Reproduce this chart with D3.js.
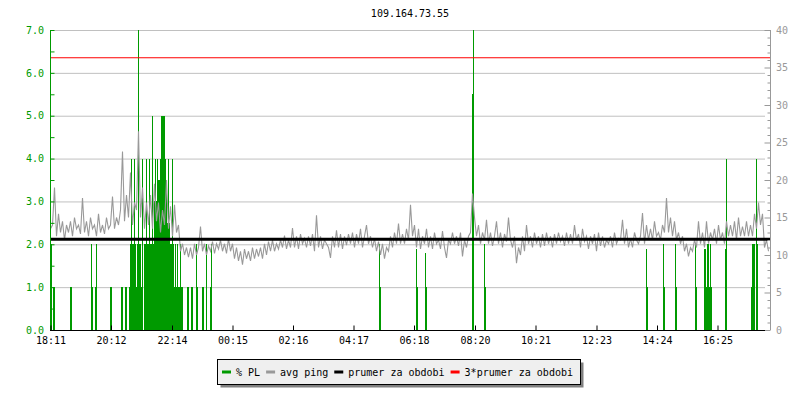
<!DOCTYPE html>
<meta charset="utf-8">
<style>
body { margin: 0; background: #fff; }
svg { display: block; }
text { font-family: "DejaVu Sans Mono", monospace; font-size: 10px; }
</style>
<svg width="800" height="400"></svg>
<script src="https://cdn.jsdelivr.net/npm/d3@7"></script>
<script>

var title = "109.164.73.55";

// x axis labels (start of period is 18:10, 24 hours shown)
var tickLabels = ["18:11", "20:12", "22:14", "00:15", "02:16", "04:17",
                  "06:18", "08:20", "10:21", "12:23", "14:24", "16:25"];

// avg ping [ms], one value every 4 minutes from 18:10
var pingStep = 4;
var pingValues = [
  13.5, 14, 19, 12.5, 15.5, 13, 14.5, 12, 14, 13,
  14.5, 12.5, 15, 13.5, 14, 12.8, 17.6, 13, 14.5, 12.5,
  15, 13.5, 14, 12.5, 15.5, 13, 14, 12.8, 15, 13.5,
  14, 17.8, 13.5, 15, 14, 16, 23.8, 14.5, 18, 15,
  21, 14, 17, 16, 26.5, 15, 19, 13.5, 17, 14,
  18, 13.5, 19.5, 14.5, 17, 13, 16, 14, 20, 13.5,
  16.5, 12.5, 16.7, 13, 14, 10.5, 11.5, 10, 11, 9.7,
  11, 9.5, 11.5, 10, 11, 13.8, 10.5, 11.5, 10, 11.2,
  10.5, 11.8, 10.2, 11.5, 10.8, 12, 10.5, 11.5, 10.2, 12.2,
  10.5, 11.5, 9.5, 11, 9.2, 10.5, 8.7, 10.8, 9.5, 10.5,
  9.2, 11, 9.5, 10.8, 9.8, 11, 9.5, 11.5, 10, 11.8,
  10.5, 12, 10.5, 11.5, 10.8, 12, 11, 12.6, 10.8, 12,
  11, 13.6, 11, 12.5, 10.8, 12.8, 11.5, 12.2, 11, 12.5,
  11.2, 12.8, 10.5, 15.3, 11, 12.5, 10.8, 12, 11.5, 11,
  9.6, 12.5, 11, 13.3, 11, 12.8, 10.8, 12.5, 11.3, 12.8,
  11.5, 13, 11, 12.8, 11.5, 13.5, 11, 12.5, 14, 11.5,
  12.5, 11, 12.2, 10.5, 11.8, 10, 11.5, 9.5, 11, 10.5,
  12.5, 11, 13, 11.5, 14.2, 11.5, 12.8, 11.5, 13.5, 12,
  16.7, 12.5, 14, 11, 13.5, 10.8, 12.5, 11.5, 13.5, 11,
  12.5, 10.8, 13, 11.5, 12, 10.8, 13.2, 11, 9.6, 12,
  11.5, 13, 11.5, 12.5, 11.2, 13, 9.8, 12, 11, 12.5,
  13, 18.2, 15, 12.5, 14, 11.5, 13, 12, 14.7, 11.5,
  13, 11.2, 12.5, 14.5, 11.5, 13, 11, 12.8, 11.8, 15,
  12, 11, 12.5, 8.9, 11, 10, 12.5, 10.5, 14, 11.5,
  12.5, 11, 13, 11.5, 12.5, 11, 12.8, 11.2, 13, 11.5,
  12.5, 11, 12.8, 11.5, 13, 11.8, 12.5, 11.2, 13, 11.5,
  12.8, 11.5, 14, 12, 12.8, 11, 13.5, 11.8, 12.5, 10.8,
  12.5, 11.5, 12.8, 10.5, 13, 11.2, 12.5, 11, 12, 11.5,
  12.5, 11, 13, 11.5, 12.2, 12, 14.7, 11.5, 13.5, 11,
  12.2, 11, 13, 12, 11.5, 12.5, 15.6, 11.5, 14, 12,
  13.5, 12, 14.5, 12.5, 13, 12, 14, 13, 17.6, 13,
  15, 12.5, 14.5, 12, 13, 11.5, 12.5, 10.5, 11.5, 9.8,
  11, 10.5, 12, 11, 14.5, 11.5, 13, 11, 14.5, 11.5,
  13, 12, 13.5, 11.5, 14, 12, 13, 11.5, 14.5, 12.5,
  14, 12.5, 14.5, 12, 15, 12.5, 13.8, 12.5, 14.5, 12.5,
  14, 12.5, 15.5, 13.5, 17, 14, 15.5, 11, 12, 10.5
];

// packet loss [%], minutes after 18:10 (2 minute samples)
var plMinutes = [
  2, 6, 8, 40, 42, 82, 84, 90, 92, 120, 122, 142, 144, 150, 152,
  158, 160, 162, 164, 166, 168, 170, 172, 174, 176, 178, 180, 182, 184,
  188, 190, 192, 194, 196, 198, 200, 202, 204, 206, 208, 210, 212, 214,
  216, 218, 220, 222, 224, 226, 228, 230, 232, 234, 236, 238, 240, 242,
  244, 246, 248, 250, 252, 254, 256, 258, 260, 262, 264,
  274, 276, 282, 284, 292, 294, 304, 306, 312, 320, 322,
  658, 660, 732, 734, 750, 752, 844, 846, 868, 870,
  1192, 1194, 1226, 1228, 1250, 1252, 1290, 1292,
  1308, 1310, 1312, 1314, 1316, 1318, 1320, 1322, 1350, 1352,
  1402, 1404, 1406, 1408, 1412, 1414
];
var plValues = [
  2, 1, 1, 1, 1, 2, 1, 1, 2, 1, 1, 1, 1, 1, 1,
  1, 2, 4, 2, 2, 4, 2, 1, 2, 7, 2, 2, 1, 4,
  2, 2, 4, 2, 2, 4, 2, 2, 5, 2, 3, 4, 3, 4,
  3.5, 3.5, 4, 5, 5, 5, 5, 4, 3.5, 2.5, 4, 2.5, 2, 2,
  4, 2, 1, 2, 1, 2, 1, 1, 2, 1, 1,
  1, 1, 1, 1, 2, 1, 1, 1, 2, 1, 2,
  2, 1, 1.9, 1, 1.8, 1, 5.5, 7, 2, 1,
  1.9, 1, 2, 1, 2, 1, 2, 1,
  1.9, 1.9, 1, 2, 2, 1, 2, 1, 1.9, 4,
  1, 2, 2, 2, 4, 2
];

// average over the period, and 3x average
var avgPing = 12.1;
var avgPing3 = 36.3;

var legendNames = ["% PL", "avg ping", "prumer za obdobi", "3*prumer za obdobi"];
var legendColors = ["#009a00", "#999999", "#000000", "#ff0000"];

var svg = d3.select("svg");

var t0 = new Date(2020, 0, 1, 18, 10);
function minutes(m) { return new Date(t0.getTime() + m * 60000); }

var x = d3.scaleTime()
    .domain([t0, minutes(24 * 60)])
    .range([50, 770]);
var yPL = d3.scaleLinear().domain([0, 7]).range([330, 30]);
var yPing = d3.scaleLinear().domain([0, 40]).range([330, 30]);

var tickDates = tickLabels.map(function(s) {
  var p = s.split(":"), h = +p[0], m = +p[1];
  return new Date(2020, 0, h < 18 ? 2 : 1, h, m);
});

svg.append("text")
    .attr("x", 410)
    .attr("y", 17)
    .attr("text-anchor", "middle")
    .attr("fill", "#000")
    .text(title);

// grid
svg.append("g")
  .selectAll("line")
  .data(d3.range(1, 8))
  .enter().append("line")
    .attr("x1", 51).attr("x2", 765)
    .attr("y1", function(d) { return yPL(d) + 0.5; })
    .attr("y2", function(d) { return yPL(d) + 0.5; })
    .attr("stroke", "#c0c0c0");

// packet loss bars
svg.append("g")
  .selectAll("rect")
  .data(plMinutes)
  .enter().append("rect")
    .attr("x", function(d) { return x(minutes(d)); })
    .attr("width", function(d) { return x(minutes(d + 2)) - x(minutes(d)); })
    .attr("y", function(d, i) { return yPL(plValues[i]); })
    .attr("height", function(d, i) { return yPL(0) - yPL(plValues[i]); })
    .attr("fill", "#009a00")
    .attr("shape-rendering", "crispEdges");

// avg ping line
var line = d3.line()
    .x(function(d, i) { return x(minutes(i * pingStep)); })
    .y(function(d) { return yPing(d); });

svg.append("path")
    .datum(pingValues)
    .attr("d", line)
    .attr("fill", "none")
    .attr("stroke", "#999999")
    .attr("stroke-width", 1.1)
    .attr("transform", "translate(0.5,0)");

// average lines
svg.append("line")
    .attr("x1", 50).attr("x2", 770)
    .attr("y1", yPing(avgPing)).attr("y2", yPing(avgPing))
    .attr("stroke", "#000").attr("stroke-width", 3);
svg.append("line")
    .attr("x1", 50).attr("x2", 770)
    .attr("y1", yPing(avgPing3)).attr("y2", yPing(avgPing3))
    .attr("stroke", "#ff0000").attr("stroke-width", 1.2);

// left axis
var left = svg.append("g").attr("transform", "translate(50.5,0)");
left.call(d3.axisRight(yPL).tickValues(d3.range(0, 7.01, 0.5)).tickSize(4).tickFormat(""));
left.select(".domain").remove();
left.append("line").attr("y1", 30).attr("y2", 330).attr("stroke", "#009a00");
left.selectAll(".tick line").attr("stroke", "#009a00");

var leftLab = svg.append("g").attr("transform", "translate(50,0)")
    .call(d3.axisLeft(yPL).tickValues(d3.range(0, 8)).tickSize(0).tickPadding(6)
      .tickFormat(d3.format(".1f")));
leftLab.select(".domain").remove();
leftLab.selectAll("text").attr("fill", "#009a00").style("font-size", "10px")
    .style("font-family", "'DejaVu Sans Mono', monospace");

// right axis
var right = svg.append("g").attr("transform", "translate(770.5,0)");
right.call(d3.axisLeft(yPing).tickValues(d3.range(0, 41)).tickSize(3).tickFormat(""));
right.select(".domain").remove();
right.append("line").attr("y1", 30).attr("y2", 330).attr("stroke", "#999");
right.selectAll(".tick line")
    .attr("stroke", "#999")
    .attr("x2", function(d) { return d % 5 === 0 ? -6 : -3; });

var rightLab = svg.append("g").attr("transform", "translate(770,0)")
    .call(d3.axisRight(yPing).tickValues(d3.range(0, 41, 5)).tickSize(0).tickPadding(6));
rightLab.select(".domain").remove();
rightLab.selectAll("text").attr("fill", "#999").style("font-size", "10px")
    .style("font-family", "'DejaVu Sans Mono', monospace");

// bottom axis
var bottom = svg.append("g").attr("transform", "translate(0,330.5)");
bottom.call(d3.axisTop(x).tickValues(tickDates).tickSize(5).tickFormat(""));
bottom.select(".domain").remove();
bottom.append("line").attr("x1", 50).attr("x2", 765).attr("stroke", "#000");
bottom.selectAll(".tick line").attr("stroke", "#000");

var bottomLab = svg.append("g").attr("transform", "translate(0,330)")
    .call(d3.axisBottom(x).tickValues(tickDates).tickSize(0).tickPadding(7)
      .tickFormat(function(d, i) { return tickLabels[i]; }));
bottomLab.select(".domain").remove();
bottomLab.selectAll("text").attr("fill", "#000").style("font-size", "10px")
    .style("font-family", "'DejaVu Sans Mono', monospace");

// legend
var legend = svg.append("g");
legend.append("rect")
    .attr("x", 220.5).attr("y", 362.5).attr("width", 363).attr("height", 25)
    .attr("fill", "#808080");
legend.append("rect")
    .attr("x", 217.5).attr("y", 359.5).attr("width", 363).attr("height", 25)
    .attr("fill", "#efefef").attr("stroke", "#000");

var lx = 222;
legendNames.forEach(function(name, i) {
  legend.append("line")
      .attr("x1", lx).attr("x2", lx + 9)
      .attr("y1", 372).attr("y2", 372)
      .attr("stroke", legendColors[i]).attr("stroke-width", 3);
  var t = legend.append("text")
      .attr("x", lx + 14).attr("y", 376)
      .attr("fill", "#000")
      .text(name);
  lx += 14 + t.node().getComputedTextLength() + 6;
});

</script>
